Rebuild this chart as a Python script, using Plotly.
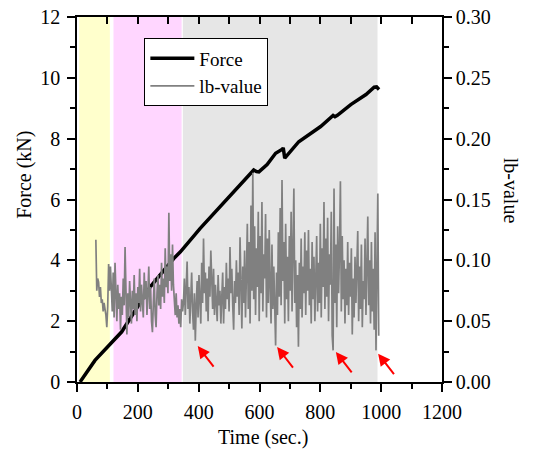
import numpy as np
import plotly.graph_objects as go

# Force curve (time in s, force in kN)
force_t = [10, 59, 147, 241, 318, 340, 405, 537, 570, 581, 590, 598, 625, 653, 675, 678,
           683, 700, 729, 801, 834, 842, 848, 856, 900, 950, 977, 985, 993]
force_kn = [0, 0.71, 1.65, 3.13, 4.06, 4.28, 5.05, 6.5, 6.85, 6.97, 6.92, 6.91, 7.15, 7.52, 7.65, 7.7,
            7.36, 7.55, 7.90, 8.40, 8.67, 8.76, 8.72, 8.77, 9.12, 9.45, 9.69, 9.70, 9.62]

lb_step = 3
lb_a_start = 62
lb_a = [0.117, 0.075, 0.085, 0.082, 0.070, 0.078, 0.065, 0.068, 0.058, 0.065, 0.060, 0.055,
        0.045, 0.062, 0.097, 0.075, 0.095]
lb_b_start = 113
lb_b = [0.075, 0.058, 0.090, 0.053, 0.098, 0.065, 0.050, 0.080, 0.060, 0.073, 0.043, 0.070,
        0.055, 0.085, 0.063, 0.111, 0.058, 0.039, 0.073, 0.053, 0.083, 0.065, 0.048, 0.075,
        0.060, 0.088, 0.055, 0.073, 0.050, 0.078, 0.065, 0.093, 0.058, 0.080, 0.070, 0.053,
        0.090, 0.068, 0.083, 0.055, 0.073, 0.095, 0.060, 0.078, 0.050, 0.041, 0.065, 0.085,
        0.055, 0.045, 0.073, 0.088, 0.063, 0.080, 0.060, 0.098, 0.070, 0.085, 0.065, 0.110,
        0.078, 0.095, 0.073, 0.139, 0.083, 0.105, 0.075, 0.113, 0.080, 0.065, 0.055, 0.073,
        0.053, 0.063, 0.048, 0.060, 0.045, 0.068, 0.058]
lb_c_start = 350
lb_c = [0.065, 0.085, 0.055, 0.075, 0.099, 0.060, 0.078, 0.048, 0.070, 0.090, 0.058, 0.043,
        0.073, 0.034, 0.063, 0.083, 0.053, 0.088, 0.068, 0.048, 0.098, 0.065, 0.118, 0.073,
        0.090, 0.058, 0.085, 0.050, 0.095, 0.070, 0.108, 0.078, 0.060, 0.093, 0.055, 0.080,
        0.065, 0.050, 0.088, 0.063, 0.075, 0.048, 0.070, 0.090, 0.048, 0.078, 0.060, 0.098,
        0.068, 0.085, 0.058, 0.111, 0.073, 0.093, 0.063, 0.043, 0.083, 0.065, 0.100, 0.070,
        0.090, 0.055, 0.119, 0.075, 0.044, 0.095, 0.065, 0.108, 0.053, 0.088]
lb_d_start = 560
lb_d = [0.130, 0.060, 0.115, 0.048, 0.145, 0.075, 0.172, 0.068, 0.128, 0.055, 0.110, 0.078,
        0.140, 0.050, 0.120, 0.073, 0.148, 0.058, 0.105, 0.085, 0.138, 0.053, 0.118, 0.065,
        0.125, 0.080, 0.048, 0.113, 0.060, 0.095, 0.040, 0.030, 0.090, 0.055, 0.123, 0.070,
        0.143, 0.063, 0.166, 0.083, 0.115, 0.048, 0.130, 0.068, 0.103, 0.050, 0.120, 0.075,
        0.140, 0.058, 0.110, 0.159, 0.065, 0.100, 0.045, 0.088, 0.029, 0.098, 0.060, 0.118,
        0.053, 0.095, 0.073, 0.123, 0.055, 0.108, 0.075, 0.125, 0.063, 0.093, 0.048, 0.115,
        0.068, 0.103, 0.050, 0.090, 0.120, 0.058, 0.098, 0.065, 0.130, 0.053, 0.110, 0.078,
        0.148, 0.060, 0.118, 0.070, 0.135, 0.050, 0.105, 0.080, 0.140, 0.038, 0.026, 0.159,
        0.065, 0.113, 0.045, 0.128, 0.073, 0.108, 0.165, 0.058, 0.120, 0.068, 0.100, 0.048,
        0.093, 0.063, 0.115, 0.055, 0.098, 0.070, 0.110, 0.039, 0.085, 0.053, 0.103, 0.065,
        0.090, 0.124, 0.050, 0.095, 0.060, 0.113, 0.045, 0.083, 0.068, 0.118, 0.055, 0.088,
        0.136, 0.063, 0.100, 0.048, 0.115, 0.058, 0.093, 0.043, 0.123, 0.026, 0.080, 0.155,
        0.038]

# stages shaded behind the curves (time in s)
stage_start = [7, 120, 348]
stage_end = [108, 344, 988]
stage_color = ["#FFFFCC", "#FFD6FF", "#E6E6E6"]

# red arrows mark the lb-value drops
arrow_t = [397, 658, 851, 990]
arrow_force = [1.18, 1.15, 0.99, 0.93]

lb_t, lb_v = [], []
for start, vals in [(lb_a_start, lb_a), (lb_b_start, lb_b), (lb_c_start, lb_c), (lb_d_start, lb_d)]:
    lb_t += list(start + lb_step * np.arange(len(vals)))
    lb_v += vals

FONT = "Liberation Serif"

fig = go.Figure()
fig.add_trace(go.Scatter(x=force_t, y=force_kn, name="Force", mode="lines",
                         line=dict(color="black", width=3.5)))
fig.add_trace(go.Scatter(x=lb_t, y=lb_v, name="lb-value", mode="lines", yaxis="y2",
                         line=dict(color="#808080", width=1.7)))

for s, e, c in zip(stage_start, stage_end, stage_color):
    fig.add_shape(type="rect", xref="x", yref="paper", x0=s, x1=e, y0=0, y1=1,
                  fillcolor=c, line_width=0, layer="below")

for t, f in zip(arrow_t, arrow_force):
    fig.add_annotation(x=t, y=f, xref="x", yref="y", text="", showarrow=True,
                       ax=17, ay=22, arrowcolor="red", arrowwidth=2, arrowhead=2, arrowsize=1.2)

titles = [("Force (kN)", -0.142, 0.568, -90), ("lb-value", 1.19, 0.523, 90),
          ("Time (sec.)", 0.51, -0.153, 0)]
for txt, px, py, ang in titles:
    fig.add_annotation(text=txt, xref="paper", yref="paper", x=px, y=py, textangle=ang,
                       xanchor="center", yanchor="middle", showarrow=False, font=dict(size=20))

axis_common = dict(showline=True, linecolor="black", linewidth=1.5, showgrid=False,
                   zeroline=False, ticks="outside", ticklen=8, tickwidth=1.5, tickcolor="black",
                   tickfont=dict(size=20, color="black"), automargin=False,
                   ticklabeloverflow="allow")

fig.update_layout(
    width=533, height=457,
    margin=dict(l=77, r=91, t=17, b=75, autoexpand=False),
    plot_bgcolor="white", paper_bgcolor="white",
    font=dict(family=FONT, color="black"),
    showlegend=True,
    legend=dict(x=0.184, y=0.942, xanchor="left", yanchor="top", bordercolor="black",
                borderwidth=1.2, bgcolor="white", font=dict(size=19), itemwidth=44,
                tracegroupgap=0),
    xaxis=dict(range=[0, 1200], dtick=200, tick0=0, ticklabelstandoff=3,
               minor=dict(dtick=100, ticklen=5, tickwidth=1.5, tickcolor="black", ticks="outside"),
               **axis_common),
    xaxis2=dict(overlaying="x", side="top", matches="x", range=[0, 1200], showline=True,
                linecolor="black", linewidth=1.5, ticks="inside", ticklen=7, tickwidth=1.5,
                tickcolor="black", dtick=100, showticklabels=False, showgrid=False,
                zeroline=False, automargin=False),
    yaxis=dict(range=[0, 12], dtick=2, ticklabelstandoff=3,
               minor=dict(dtick=1, ticklen=5, tickwidth=1.5, tickcolor="black", ticks="outside"),
               **axis_common),
    yaxis2=dict(range=[0, 0.30], dtick=0.05, overlaying="y", side="right", tickformat=".2f",
                minor=dict(dtick=0.025, ticklen=5, tickwidth=1.5, tickcolor="black", ticks="outside"),
                **axis_common),
)
# invisible point so the top axis is drawn
fig.add_trace(go.Scatter(x=[0], y=[0], xaxis="x2", mode="markers", marker=dict(opacity=0),
                         showlegend=False, hoverinfo="skip"))

# drop the default 8 px body margin so the 533x457 figure fills the window exactly
fig.write_html("out.html", config={"displayModeBar": False},
               post_script="document.body.style.margin='0px';")
